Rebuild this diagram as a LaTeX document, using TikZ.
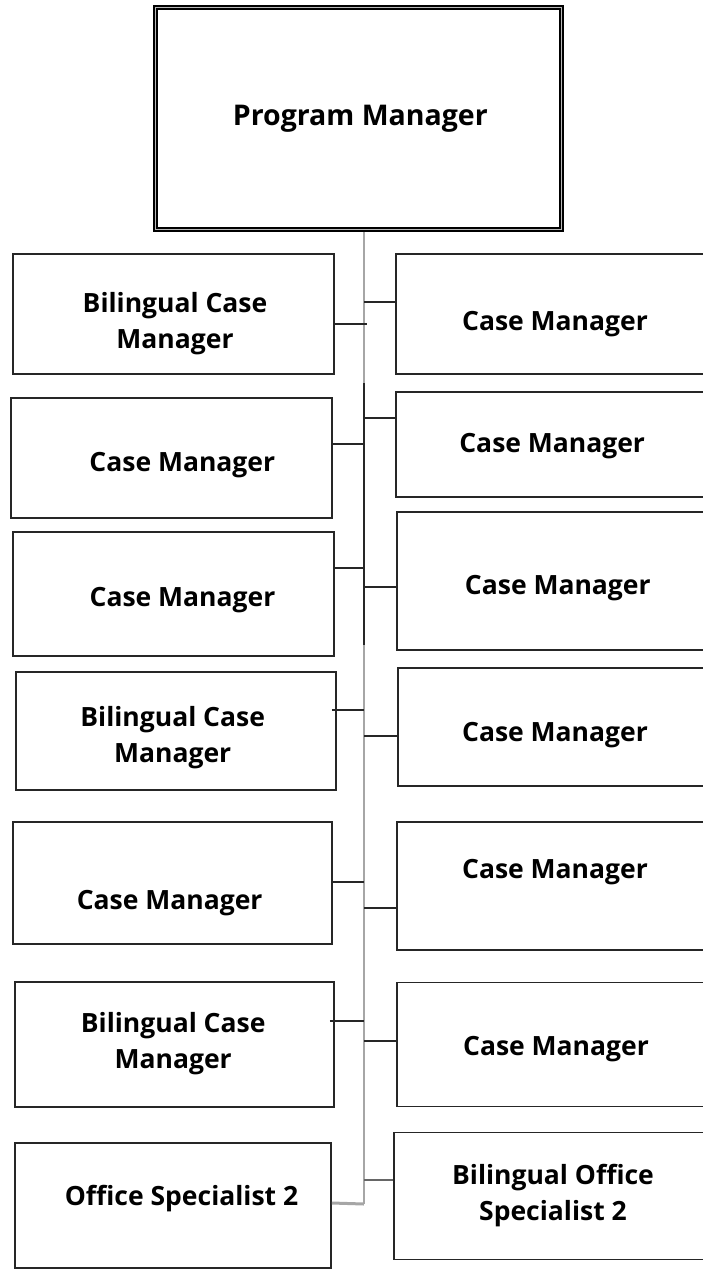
\documentclass[tikz,border=0pt]{standalone}
\usepackage{fontspec}
\setmainfont{Open Sans}
\usetikzlibrary{positioning}

\begin{document}
\begin{tikzpicture}[x=1pt, y=-1pt,
    post/.style={draw=black!85, line width=1.6pt, fill=white, inner sep=0pt},
    head/.style={post, draw=black, line width=1.3pt, double=gray!55, double distance=1.6pt},
    tag/.style={font=\fontsize{26.5}{36}\selectfont\bfseries, align=center, inner sep=0pt},
    conn/.style={draw=black!85, line width=1.5pt},
    spine/.style={draw=gray!70, line width=2pt}
]
\useasboundingbox (0,0) rectangle (703,1269);
\clip (0,0) rectangle (703,1269);
\fill[white] (0,0) rectangle (703,1269);

% spine
\coordinate (sp) at (364,232);
\coordinate (spb) at (364,1204);
\draw[spine] (sp) -- (spb);
\draw[conn] (sp |- 0,383) -- (sp |- 0,645);

\node[head, minimum width=406pt, minimum height=222pt, label={[tag, font=\fontsize{28.5}{36}\selectfont\bfseries, shift={(1.8,0)}]center:Program Manager}] (pm) at (358.5,118.5) {};

% left column
\node[post, minimum width=321pt, minimum height=120pt, label={[tag, shift={(1.5,9.5)}]center:Bilingual Case\\Manager}] (l1) at (173.5,314) {};
\node[post, minimum width=321pt, minimum height=120pt, label={[tag, shift={(10.8,6.7)}]center:Case Manager}] (l2) at (171.5,458) {};
\node[post, minimum width=321pt, minimum height=124pt, label={[tag, shift={(9,6.2)}]center:Case Manager}] (l3) at (173.5,594) {};
\node[post, minimum width=320pt, minimum height=118pt, label={[tag, shift={(-3.3,6.9)}]center:Bilingual Case\\Manager}] (l4) at (176,731) {};
\node[post, minimum width=319pt, minimum height=122pt, label={[tag, shift={(-2.8,20)}]center:Case Manager}] (l5) at (172.5,883) {};
\node[post, minimum width=319pt, minimum height=125pt, label={[tag, shift={(-1.3,-1)}]center:Bilingual Case\\Manager}] (l6) at (174.5,1044.5) {};
\node[post, minimum width=316pt, minimum height=125pt, label={[tag, shift={(8.5,-7)}]center:Office Specialist 2}] (l7) at (173,1205.5) {};

% right column
\node[post, minimum width=318pt, minimum height=120pt, label={[tag, shift={(0,10.3)}]center:Case Manager}] (r1) at (555,314) {};
\node[post, minimum width=318pt, minimum height=105pt, label={[tag, shift={(-2.8,1.5)}]center:Case Manager}] (r2) at (555,444.5) {};
\node[post, minimum width=317pt, minimum height=138pt, label={[tag, shift={(2.3,7.1)}]center:Case Manager}] (r3) at (555.5,581) {};
\node[post, minimum width=316pt, minimum height=118pt, label={[tag, shift={(-1,7.6)}]center:Case Manager}] (r4) at (556,727) {};
\node[post, minimum width=317pt, minimum height=128pt, label={[tag, shift={(-0.5,-13.8)}]center:Case Manager}] (r5) at (555.5,886) {};
\node[post, minimum width=317pt, minimum height=124pt, label={[tag, shift={(0.5,4.8)}]center:Case Manager}] (r6) at (555.5,1044.5) {};
\node[post, minimum width=320pt, minimum height=127pt, label={[tag, shift={(-1,-0.6)}]center:Bilingual Office\\Specialist 2}] (r7) at (554,1195.8) {};

% branches
\draw[conn] (l1.east |- 0,324) -- ([xshift=3pt]sp |- 0,324);
\draw[conn] (l2.east |- 0,444) -- (sp |- 0,444);
\draw[conn] (l3.east |- 0,568) -- (sp |- 0,568);
\draw[conn] ([xshift=-5pt]l4.east |- 0,710) -- (sp |- 0,710);
\draw[conn] (l5.east |- 0,882) -- (sp |- 0,882);
\draw[conn] ([xshift=-5pt]l6.east |- 0,1021) -- (sp |- 0,1021);
\draw[spine, line width=3pt] (l7.east |- 0,1203) -- (spb);

\draw[conn] (sp |- 0,302) -- (r1.west |- 0,302);
\draw[conn] (sp |- 0,418) -- (r2.west |- 0,418);
\draw[conn] (sp |- 0,587) -- (r3.west |- 0,587);
\draw[conn] (sp |- 0,736) -- (r4.west |- 0,736);
\draw[conn] (sp |- 0,908) -- (r5.west |- 0,908);
\draw[conn] (sp |- 0,1041) -- (r6.west |- 0,1041);
\draw[conn, draw=black!60] (sp |- 0,1180) -- (r7.west |- 0,1180);
\end{tikzpicture}
\end{document}
